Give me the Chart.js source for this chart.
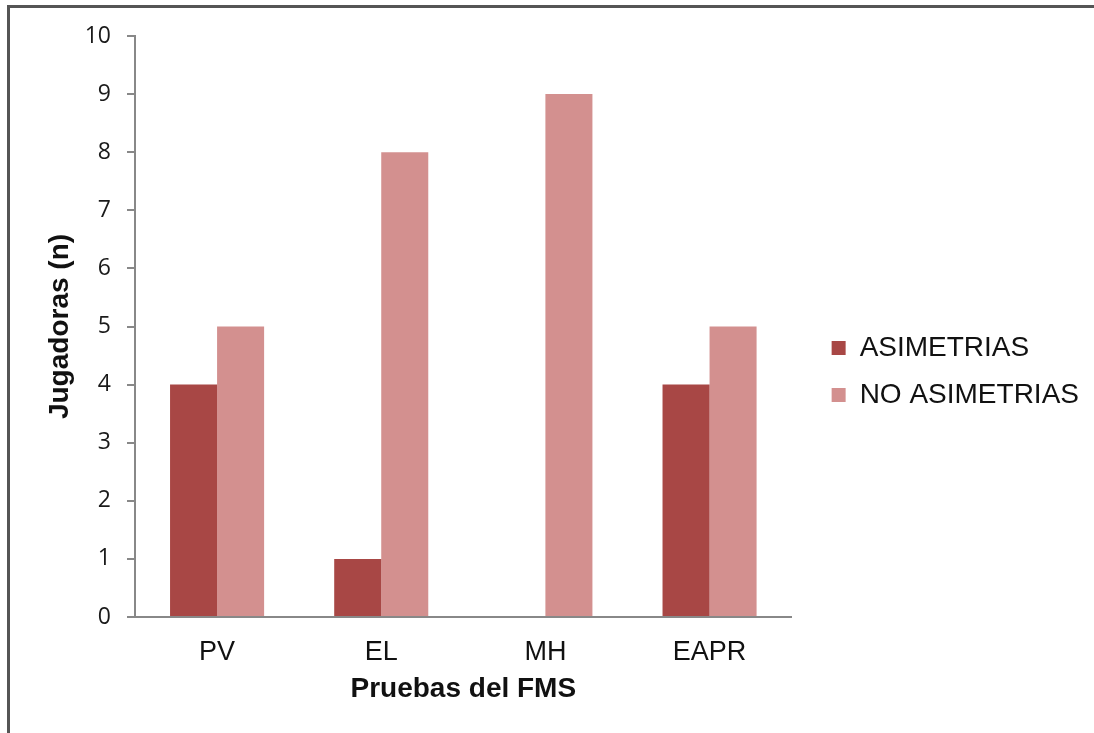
<!DOCTYPE html>
<html>
<head>
<meta charset="utf-8">
<script src="https://cdn.jsdelivr.net/npm/chart.js@4/dist/chart.umd.min.js"></script>
<style>
  html, body { margin: 0; padding: 0; background: #fff; }
</style>
</head>
<body>
<canvas id="myChart" width="1094" height="733"></canvas>
<script>
// data
var categories = ['PV', 'EL', 'MH', 'EAPR'];
var asimetrias = [4, 1, 0, 4];
var noAsimetrias = [5, 8, 9, 5];

// thin frame on the left / top, like the cropped Excel chart border
var framePlugin = {
  id: 'frame',
  afterDraw: function(chart) {
    var c = chart.ctx;
    c.save();
    c.strokeStyle = '#555';
    c.lineWidth = 3;
    c.beginPath();
    c.moveTo(8.5, 733);
    c.lineTo(8.5, 6.5);
    c.lineTo(1094, 6.5);
    c.stroke();
    c.restore();
  }
};

// the layout caps a right legend at width/2/boxes, which clips the labels
var legendWidthPlugin = {
  id: 'legendWidth',
  beforeLayout: function(chart) {
    var lg = chart.legend;
    if (!lg || lg._widthPatched) return;
    var fit = lg.fit;
    lg.fit = function() {
      this.maxWidth = 400;
      fit.call(this);
    };
    lg._widthPatched = true;
  }
};

var ctx = document.getElementById('myChart').getContext('2d');
var myChart = new Chart(ctx, {
  type: 'bar',
  data: {
    labels: categories,
    datasets: [{
      label: 'ASIMETRIAS',
      data: asimetrias,
      backgroundColor: '#A84745',
      borderWidth: 0
    }, {
      label: 'NO ASIMETRIAS',
      data: noAsimetrias,
      backgroundColor: '#D3908F',
      borderWidth: 0
    }]
  },
  options: {
    responsive: false,
    animation: false,
    categoryPercentage: 0.573,
    barPercentage: 1,
    layout: {
      padding: { left: 10, top: 36, right: 5, bottom: 26 }
    },
    scales: {
      x: {
        grid: { display: false, drawTicks: false },
        border: { display: true, color: '#888', width: 2 },
        ticks: {
          color: '#111',
          padding: 19,
          font: { family: '"Liberation Sans", Arial, sans-serif', size: 27 }
        },
        title: {
          display: true,
          text: 'Pruebas del FMS',
          color: '#111',
          padding: { top: 0, bottom: 1 },
          font: { family: '"Liberation Sans", Arial, sans-serif', size: 28, weight: 'bold' }
        },
        afterFit: function(scale) { scale.height = 90; }
      },
      y: {
        min: 0,
        max: 10,
        grid: { drawOnChartArea: false, drawTicks: true, tickLength: 8, color: '#888', lineWidth: 2 },
        border: { display: true, color: '#888', width: 2 },
        ticks: {
          stepSize: 1,
          color: '#1a1a1a',
          padding: 16,
          font: { family: '"Open Sans", sans-serif', size: 23 }
        },
        title: {
          display: true,
          text: 'Jugadoras (n)',
          color: '#111',
          padding: { top: 33, bottom: 0 },
          font: { family: '"Liberation Sans", Arial, sans-serif', size: 28, weight: 'bold' }
        },
        afterFit: function(scale) { scale.width = 125; }
      },
      // empty axis, only keeps a gap between the bars and the legend
      gap: {
        position: 'right',
        display: true,
        grid: { display: false },
        border: { display: false },
        ticks: { display: false },
        afterFit: function(scale) { scale.width = 21; }
      }
    },
    plugins: {
      legend: {
        position: 'right',
        labels: {
          boxWidth: 14,
          boxHeight: 14,
          padding: 19,
          color: '#111',
          font: { family: '"Liberation Sans", Arial, sans-serif', size: 28 }
        }
      },
      tooltip: { enabled: false }
    }
  },
  plugins: [framePlugin, legendWidthPlugin]
});
</script>
</body>
</html>
